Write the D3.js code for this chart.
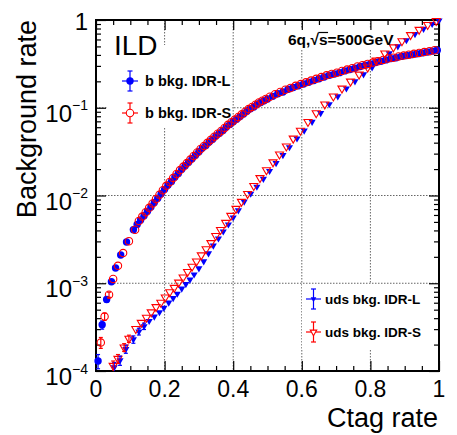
<!DOCTYPE html>
<html>
<head>
<meta charset="utf-8">
<script src="https://cdn.jsdelivr.net/npm/d3@7"></script>
<style>
	body{margin:0;background:#fff;}
	text{font-family:"Liberation Sans",Arial,Helvetica,sans-serif;}
</style>
</head>
<body>
<svg id="chart" width="457" height="435"></svg>
<script>
// b background, IDR-L (blue, filled circles)
const bLx = [0.006,0.018,0.031,0.045,0.057,0.072,0.089,0.109,0.12,0.13,0.14,0.15,0.16,0.17,0.18,0.19,0.20,0.21,0.22,0.23,0.24,0.25,0.26,0.27,0.28,0.29,0.30,0.31,0.32,0.33,0.34,0.35,0.36,0.37,0.38,0.39,0.40,0.41,0.42,0.43,0.44,0.45,0.46,0.47,0.48,0.49,0.50,0.515,0.53,0.545,0.56,0.575,0.59,0.605,0.62,0.635,0.65,0.665,0.68,0.695,0.71,0.725,0.74,0.755,0.77,0.785,0.80,0.815,0.83,0.845,0.86,0.875,0.89,0.905,0.92,0.935,0.95,0.965,0.98,0.995];
const bLy = [1.30e-4,3.36e-4,6.53e-4,1.04e-3,1.49e-3,2.10e-3,2.95e-3,4.07e-3,4.68e-3,5.25e-3,5.89e-3,6.61e-3,7.41e-3,8.32e-3,9.33e-3,1.047e-2,1.175e-2,1.318e-2,1.445e-2,1.622e-2,1.778e-2,1.995e-2,2.188e-2,2.399e-2,2.630e-2,2.884e-2,3.162e-2,3.467e-2,3.715e-2,4.074e-2,4.365e-2,4.786e-2,5.129e-2,5.495e-2,6.026e-2,6.457e-2,6.918e-2,7.413e-2,7.943e-2,8.511e-2,9.120e-2,9.772e-2,0.1023,0.1096,0.1148,0.1202,0.1259,0.1349,0.1445,0.1514,0.1622,0.1698,0.1778,0.1862,0.1950,0.2042,0.2138,0.2239,0.2344,0.2427,0.2512,0.2630,0.2723,0.2818,0.2951,0.3055,0.3162,0.3273,0.3388,0.3508,0.3631,0.3715,0.3846,0.3936,0.4027,0.4121,0.4217,0.4315,0.4416,0.4519];
const bLerr = [2.4e-5,3.6e-5,4.5e-5];

// b background, IDR-S (red, open circles)
const bSx = [0.014,0.025,0.038,0.05,0.064,0.079,0.096,0.114,0.125,0.135,0.145,0.155,0.165,0.175,0.185,0.195,0.205,0.215,0.225,0.235,0.245,0.255,0.265,0.275,0.285,0.295,0.305,0.315,0.325,0.335,0.345,0.355,0.365,0.375,0.385,0.395,0.405,0.415,0.425,0.435,0.445,0.455,0.465,0.475,0.485,0.495,0.507,0.522,0.537,0.552,0.567,0.582,0.597,0.612,0.627,0.642,0.657,0.672,0.687,0.702,0.717,0.732,0.747,0.762,0.777,0.792,0.807,0.822,0.837,0.852,0.867,0.882,0.897,0.912,0.927,0.942,0.957,0.972,0.987];
const bSy = [2.11e-4,4.17e-4,7.41e-4,1.12e-3,1.58e-3,2.21e-3,3.02e-3,4.07e-3,5.13e-3,5.75e-3,6.46e-3,7.24e-3,8.13e-3,9.12e-3,1.023e-2,1.148e-2,1.288e-2,1.429e-2,1.585e-2,1.758e-2,1.950e-2,2.138e-2,2.344e-2,2.570e-2,2.818e-2,3.090e-2,3.388e-2,3.673e-2,3.981e-2,4.315e-2,4.677e-2,5.070e-2,5.433e-2,5.888e-2,6.383e-2,6.839e-2,7.328e-2,7.852e-2,8.414e-2,9.016e-2,9.661e-2,0.1023,0.1084,0.1148,0.1202,0.1259,0.1334,0.1429,0.1514,0.1603,0.1679,0.1778,0.1862,0.1950,0.2042,0.2138,0.2239,0.2344,0.2427,0.2512,0.2630,0.2723,0.2818,0.2951,0.3055,0.3162,0.3273,0.3388,0.3508,0.3631,0.3715,0.3846,0.3936,0.4027,0.4121,0.4217,0.4315,0.4416,0.4519];
const bSerr = [3.0e-5,4.0e-5,5.0e-5];

// uds background, IDR-L (blue, filled triangles)
const udsLx = [0.053,0.070,0.087,0.109,0.125,0.140,0.155,0.170,0.185,0.198,0.212,0.225,0.237,0.250,0.262,0.274,0.286,0.300,0.314,0.328,0.342,0.357,0.371,0.386,0.400,0.415,0.432,0.451,0.469,0.488,0.506,0.525,0.545,0.564,0.586,0.607,0.630,0.655,0.680,0.705,0.730,0.755,0.780,0.805,0.830,0.855,0.880,0.905,0.930,0.955,0.980,1.000];
const udsLy = [1.10e-4,1.32e-4,1.78e-4,2.29e-4,2.82e-4,3.24e-4,3.72e-4,4.17e-4,4.68e-4,5.25e-4,6.03e-4,6.76e-4,7.59e-4,8.71e-4,9.77e-4,1.10e-3,1.26e-3,1.48e-3,1.78e-3,2.19e-3,2.69e-3,3.24e-3,3.89e-3,4.68e-3,5.62e-3,6.76e-3,8.51e-3,1.047e-2,1.259e-2,1.549e-2,1.905e-2,2.344e-2,2.884e-2,3.548e-2,4.467e-2,5.495e-2,6.918e-2,8.710e-2,0.1096,0.1349,0.1660,0.1995,0.2399,0.2884,0.3467,0.4169,0.5012,0.5888,0.6918,0.7943,0.9016,0.9886];
const udsLerr = [1.5e-5,1.6e-5,1.9e-5,2.2e-5,2.5e-5,2.7e-5];

// uds background, IDR-S (red, open triangles)
const udsSx = [0.050,0.064,0.082,0.096,0.116,0.132,0.147,0.161,0.175,0.189,0.202,0.215,0.228,0.241,0.254,0.267,0.280,0.293,0.307,0.321,0.335,0.349,0.363,0.378,0.393,0.408,0.424,0.442,0.460,0.478,0.497,0.516,0.535,0.555,0.575,0.596,0.618,0.642,0.667,0.692,0.717,0.742,0.767,0.792,0.817,0.842,0.867,0.892,0.917,0.942,0.967,0.992];
const udsSy = [1.15e-4,1.38e-4,1.86e-4,2.34e-4,3.02e-4,3.55e-4,4.07e-4,4.68e-4,5.37e-4,6.03e-4,6.92e-4,7.94e-4,8.91e-4,1.02e-3,1.17e-3,1.35e-3,1.55e-3,1.78e-3,2.09e-3,2.45e-3,2.88e-3,3.47e-3,4.07e-3,4.90e-3,5.89e-3,7.08e-3,8.51e-3,1.047e-2,1.288e-2,1.585e-2,1.950e-2,2.399e-2,2.951e-2,3.631e-2,4.467e-2,5.495e-2,6.918e-2,8.710e-2,0.1096,0.1349,0.1660,0.1995,0.2399,0.2884,0.3467,0.4169,0.4898,0.5754,0.6761,0.7762,0.8810,0.9772];
const udsSerr = [1.5e-5,1.6e-5,1.9e-5,2.2e-5];

const xTicks = [0,0.2,0.4,0.6,0.8,1];
const xTickLabels = ["0","0.2","0.4","0.6","0.8","1"];
const yTicks = [1e-4,1e-3,1e-2,1e-1,1];
const yTickExp = ["\u22124","\u22123","\u22122","\u22121",""];

const BLUE = "#0000ff", RED = "#ff0000";

const svg = d3.select("#chart");
const pLeft = 96, pRight = 439, pTop = 20, pBottom = 371;
const x = d3.scaleLinear().domain([0,1]).range([pLeft,pRight]);
const y = d3.scaleLog().domain([1e-4,1]).range([pBottom,pTop]);

// grid
const grid = svg.append("g").attr("class","grid")
	.attr("stroke","#666").attr("stroke-width",1).attr("stroke-dasharray","1.5,1.5");
[0.2,0.4,0.6,0.8].forEach(function(v){
	grid.append("line").attr("x1",x(v)).attr("x2",x(v)).attr("y1",pTop).attr("y2",pBottom);
});
[1e-3,1e-2,1e-1].forEach(function(v){
	grid.append("line").attr("x1",pLeft).attr("x2",pRight).attr("y1",y(v)).attr("y2",y(v));
});

// boxes behind legends / labels hide the grid
svg.append("rect").attr("x",107).attr("y",45).attr("width",125).attr("height",83).attr("fill","#fff");
svg.append("rect").attr("x",302).attr("y",284).attr("width",93).attr("height",66).attr("fill","#fff");
svg.append("rect").attr("x",285).attr("y",28).attr("width",112).attr("height",22).attr("fill","#fff");

// axes (ticks inward)
const minorX = d3.range(0,1.0001,0.05).filter(function(v){ return Math.abs(v*5-Math.round(v*5))>1e-6; });
const minorY = [];
[1e-4,1e-3,1e-2,1e-1].forEach(function(d){ for(let k=2;k<=9;k++) minorY.push(d*k); });

function addAxis(axis, tr){
	const g = svg.append("g").attr("transform",tr).call(axis);
	g.select(".domain").remove();
	g.selectAll("line").attr("stroke","#000").attr("stroke-width",1.2);
	g.selectAll("text").remove();
	return g;
}
addAxis(d3.axisBottom(x).tickValues(xTicks).tickSize(-10), "translate(0,"+pBottom+")");
addAxis(d3.axisBottom(x).tickValues(minorX).tickSize(-5), "translate(0,"+pBottom+")");
addAxis(d3.axisTop(x).tickValues(xTicks).tickSize(-10), "translate(0,"+pTop+")");
addAxis(d3.axisTop(x).tickValues(minorX).tickSize(-5), "translate(0,"+pTop+")");
addAxis(d3.axisLeft(y).tickValues(yTicks).tickSize(-10), "translate("+pLeft+",0)");
addAxis(d3.axisLeft(y).tickValues(minorY).tickSize(-5), "translate("+pLeft+",0)");
addAxis(d3.axisRight(y).tickValues(yTicks).tickSize(-10), "translate("+pRight+",0)");
addAxis(d3.axisRight(y).tickValues(minorY).tickSize(-5), "translate("+pRight+",0)");

svg.append("rect").attr("x",pLeft).attr("y",pTop).attr("width",pRight-pLeft).attr("height",pBottom-pTop)
	.attr("fill","none").attr("stroke","#000").attr("stroke-width",2);

// tick labels
svg.append("g").selectAll("text").data(xTicks).enter().append("text")
	.attr("x",function(d){ return x(d); }).attr("y",397)
	.attr("text-anchor","middle").attr("font-size",23)
	.text(function(d,i){ return xTickLabels[i]; });

const yl = svg.append("g").selectAll("text").data(yTicks).enter().append("text")
	.attr("x",88).attr("text-anchor","end").attr("font-size",24)
	.attr("y",function(d){ return d===1 ? y(d)+10 : y(d)+14; });
yl.append("tspan").text(function(d){ return d===1 ? "1" : "10"; });
yl.filter(function(d){ return d!==1; }).append("tspan")
	.attr("dy",-11.5).attr("font-size",14)
	.text(function(d){ return yTickExp[yTicks.indexOf(d)]; });

// axis titles
svg.append("text").attr("x",438).attr("y",427).attr("text-anchor","end").attr("font-size",27).text("Ctag rate");
svg.append("text").attr("transform","translate(36,20) rotate(-90)").attr("text-anchor","end")
	.attr("font-size",27).text("Background rate");

// error bars
function errBars(xs, ys, errs, color){
	const g = svg.append("g").attr("stroke",color).attr("stroke-width",1.2);
	errs.forEach(function(e,i){
		const cx = x(xs[i]), lo = y(Math.max(ys[i]-e,1e-4)), hi = y(ys[i]+e);
		g.append("line").attr("x1",cx).attr("x2",cx).attr("y1",lo).attr("y2",hi);
		g.append("line").attr("x1",cx-2).attr("x2",cx+2).attr("y1",hi).attr("y2",hi);
		if(ys[i]-e>1e-4) g.append("line").attr("x1",cx-2).attr("x2",cx+2).attr("y1",lo).attr("y2",lo);
	});
}

const tri = d3.symbol().type(d3.symbolTriangle);
function pts(xs, ys){ return xs.map(function(v,i){ return [v, ys[i]]; }); }

const plot = svg.append("g");
errBars(udsLx, udsLy, udsLerr, BLUE);
errBars(bLx, bLy, bLerr, BLUE);
errBars(udsSx, udsSy, udsSerr, RED);
errBars(bSx, bSy, bSerr, RED);

plot.append("g").selectAll("path").data(pts(udsLx,udsLy)).enter().append("path")
	.attr("d",tri.size(22)())
	.attr("transform",function(d){ return "translate("+x(d[0])+","+y(d[1])+") rotate(180)"; })
	.attr("fill",BLUE);
plot.append("g").selectAll("circle").data(pts(bLx,bLy)).enter().append("circle")
	.attr("cx",function(d){ return x(d[0]); }).attr("cy",function(d){ return y(d[1]); })
	.attr("r",3.7).attr("fill",BLUE);
plot.append("g").selectAll("path").data(pts(udsSx,udsSy)).enter().append("path")
	.attr("d",tri.size(28)())
	.attr("transform",function(d){ return "translate("+x(d[0])+","+y(d[1])+") rotate(180)"; })
	.attr("fill","none").attr("stroke",RED).attr("stroke-width",1.1);
plot.append("g").selectAll("circle").data(pts(bSx,bSy)).enter().append("circle")
	.attr("cx",function(d){ return x(d[0]); }).attr("cy",function(d){ return y(d[1]); })
	.attr("r",3.7).attr("fill","none").attr("stroke",RED).attr("stroke-width",1.1);

// labels
svg.append("text").attr("x",114).attr("y",55).attr("font-size",28).text("ILD");

const energy = svg.append("text").attr("x",288).attr("y",45).attr("font-size",15.5).attr("font-weight","bold");
energy.append("tspan").text("6q,");
const rootSign = energy.append("tspan").text("\u221A");
const sPart = energy.append("tspan").text("s");
energy.append("tspan").text("=500GeV");
const sb = sPart.node().getBBox();
const rb = rootSign.node().getBBox();
svg.append("line").attr("x1",rb.x+rb.width-1).attr("x2",sb.x+sb.width+0.5)
	.attr("y1",rb.y+1.5).attr("y2",rb.y+1.5).attr("stroke","#000").attr("stroke-width",1.2);

// legends
function legendEntry(cx, cy, hw, vh, color, marker, label, tx, fs){
	const g = svg.append("g");
	g.append("line").attr("x1",cx-hw).attr("x2",cx+hw).attr("y1",cy).attr("y2",cy).attr("stroke",color).attr("stroke-width",1.2);
	g.append("line").attr("x1",cx).attr("x2",cx).attr("y1",cy-vh).attr("y2",cy+vh).attr("stroke",color).attr("stroke-width",1.2);
	g.append("line").attr("x1",cx-2.5).attr("x2",cx+2.5).attr("y1",cy-vh).attr("y2",cy-vh).attr("stroke",color).attr("stroke-width",1.2);
	g.append("line").attr("x1",cx-2.5).attr("x2",cx+2.5).attr("y1",cy+vh).attr("y2",cy+vh).attr("stroke",color).attr("stroke-width",1.2);
	if(marker==="circleF") g.append("circle").attr("cx",cx).attr("cy",cy).attr("r",3.7).attr("fill",color);
	if(marker==="circleO") g.append("circle").attr("cx",cx).attr("cy",cy).attr("r",3.7).attr("fill","#fff").attr("stroke",color).attr("stroke-width",1.1);
	if(marker==="triF") g.append("path").attr("d",tri.size(14)()).attr("transform","translate("+cx+","+cy+") rotate(180)").attr("fill",color);
	if(marker==="triO") g.append("path").attr("d",tri.size(18)()).attr("transform","translate("+cx+","+cy+") rotate(180)").attr("fill","#fff").attr("stroke",color).attr("stroke-width",1.1);
	g.append("text").attr("x",tx).attr("y",cy+5).attr("font-size",fs).attr("font-weight","bold").text(label);
}
legendEntry(130, 81, 8, 10, BLUE, "circleF", "b bkg. IDR-L", 145, 14.5);
legendEntry(130, 113, 8, 10, RED, "circleO", "b bkg. IDR-S", 145, 14.5);
legendEntry(313.5, 299, 7.5, 10, BLUE, "triF", "uds bkg. IDR-L", 325, 13.5);
legendEntry(313.5, 332, 7.5, 10, RED, "triO", "uds bkg. IDR-S", 325, 13.5);
</script>
</body>
</html>
